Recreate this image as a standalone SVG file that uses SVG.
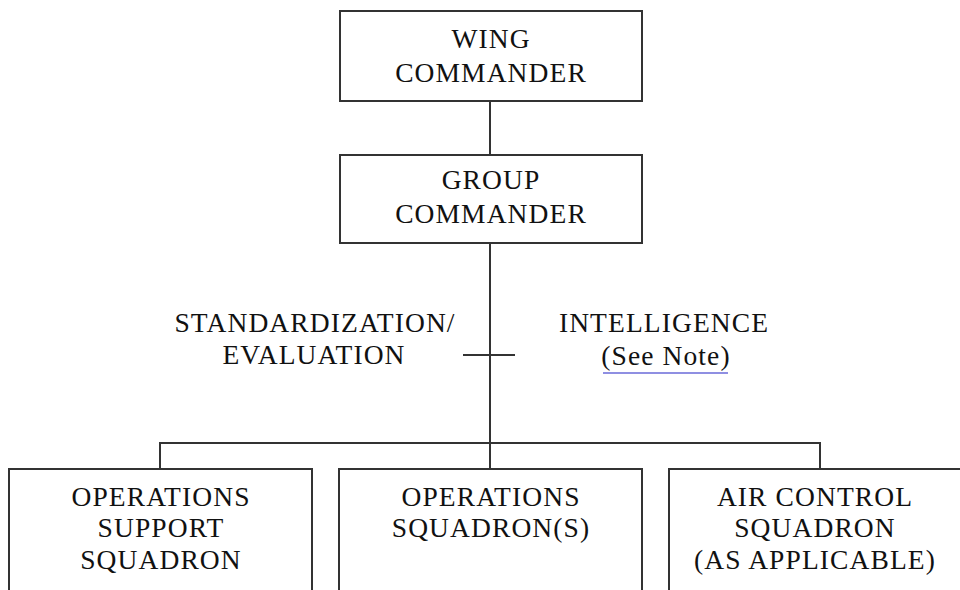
<svg xmlns="http://www.w3.org/2000/svg" width="960" height="590" viewBox="0 0 960 590">
<style>
.box{fill:#ffffff;stroke:#333333;stroke-width:2}
.ln{stroke:#333333;stroke-width:2;fill:none}
text{font-family:"Liberation Serif","Times New Roman",serif;font-size:27.5px;letter-spacing:1.1px;fill:#111111;text-anchor:middle}
</style>
<rect width="960" height="590" fill="#ffffff"/>
<g id="connectors">
<line class="ln" x1="490" y1="101" x2="490" y2="155"/>
<line class="ln" x1="490" y1="243" x2="490" y2="469"/>
<line class="ln" x1="463" y1="355" x2="515" y2="355"/>
<polyline class="ln" points="160,469 160,443 820,443 820,469"/>
</g>
<g id="wing">
<rect class="box" x="340" y="11" width="302" height="90"/>
<text x="491" y="48">WING</text>
<text x="491" y="82">COMMANDER</text>
</g>
<g id="group">
<rect class="box" x="340" y="155" width="302" height="88"/>
<text x="491" y="189">GROUP</text>
<text x="491" y="223">COMMANDER</text>
</g>
<g id="stdeval">
<text x="315" y="332">STANDARDIZATION/</text>
<text x="314" y="364">EVALUATION</text>
</g>
<g id="intel">
<text x="664" y="332">INTELLIGENCE</text>
<text x="666" y="365">(See Note)</text>
<line x1="603" y1="373" x2="728" y2="373" stroke="#6a6ad8" stroke-width="1.5"/>
</g>
<g id="oss">
<rect class="box" x="9" y="469" width="303" height="140"/>
<text x="161" y="506">OPERATIONS</text>
<text x="161" y="537">SUPPORT</text>
<text x="161" y="569">SQUADRON</text>
</g>
<g id="ops">
<rect class="box" x="339" y="469" width="303" height="140"/>
<text x="491" y="506">OPERATIONS</text>
<text x="491" y="537">SQUADRON(S)</text>
</g>
<g id="acs">
<rect class="box" x="669" y="469" width="300" height="140"/>
<text x="815" y="506">AIR CONTROL</text>
<text x="815" y="537">SQUADRON</text>
<text x="815" y="569">(AS APPLICABLE)</text>
</g>
</svg>
